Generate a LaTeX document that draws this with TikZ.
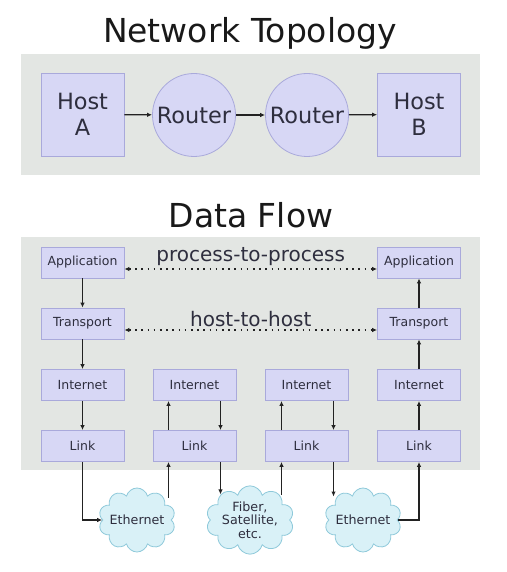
\documentclass[tikz,border=0pt]{standalone}
\usepackage{fontspec}
\setmainfont{DejaVu Sans}
\usetikzlibrary{positioning, arrows.meta, shapes.symbols}

\definecolor{panelgray}{HTML}{E3E6E3}
\definecolor{boxfill}{HTML}{D7D7F5}
\definecolor{boxline}{HTML}{A9A9DB}
\definecolor{boxtext}{HTML}{2E2E3E}
\definecolor{cloudfill}{HTML}{D9F1F7}
\definecolor{cloudline}{HTML}{8EC9DA}
\definecolor{wire}{HTML}{222222}

\begin{document}
\begin{tikzpicture}[
    x=1pt, y=-1pt,
    % Box styles
    box/.style={draw=boxline, line width=0.8pt, fill=boxfill, text=boxtext},
    host/.style={box, minimum width=83pt, minimum height=83pt, align=center,
        font=\fontsize{22.4}{26}\selectfont},
    router/.style={box, circle, minimum size=83pt, inner sep=0pt,
        font=\fontsize{22.4}{26}\selectfont},
    layer/.style={box, minimum width=83pt, minimum height=31pt, inner sep=0pt,
        font=\fontsize{12.5}{14}\selectfont},
    net/.style={cloud, cloud puffs=10, cloud ignores aspect, draw=cloudline,
        line width=0.8pt, fill=cloudfill, text=boxtext, minimum width=75pt,
        minimum height=64pt, inner sep=0pt, align=center,
        font=\fontsize{12.7}{13.5}\selectfont},
    title/.style={anchor=base, font=\fontsize{33}{38}\selectfont, text=black!90},
    peertext/.style={above=-1pt, font=\fontsize{20}{22}\selectfont, text=boxtext},
    % Arrow styles
    wirearrow/.style={-{Latex[length=5pt,width=4.5pt]}, line width=1.2pt, draw=wire},
    peer/.style={{Latex[length=5pt,width=4.5pt]}-{Latex[length=5pt,width=4.5pt]},
        line width=1.2pt, draw=wire, dash pattern=on 1.6pt off 4.6pt}
]
    \useasboundingbox (0,0) rectangle (506,572);

    % --- TOPOLOGY ---
    \node[title] (toptitle) at (250,43) {Network Topology};
    \fill[panelgray] (21,54) rectangle (480,175);

    \node[host]   (hostA)   at (82.5,114.5) {Host\\A};
    \node[router] (router1) at (194,115) {Router};
    \node[router] (router2) at (307,115) {Router};
    \node[host]   (hostB)   at (419,114.5) {Host\\B};

    \draw[wirearrow] (hostA) -- (router1);
    \draw[wirearrow] (router1) -- (router2);
    \draw[wirearrow] (router2) -- (hostB);

    % --- DATA FLOW ---
    \node[title] (flowtitle) at (251,227) {Data Flow};
    \fill[panelgray] (21,237) rectangle (480,470);

    % Hosts: four layers each
    \foreach \c/\x in {1/82.5, 4/419} {
        \node[layer] (app\c)   at (\x,262.5) {Application};
        \node[layer] (trans\c) at (\x,323.5) {Transport};
    }
    \foreach \c/\x in {1/82.5, 2/194.5, 3/306.5, 4/419} {
        \node[layer] (int\c)  at (\x,385) {Internet};
        \node[layer] (link\c) at (\x,446) {Link};
    }

    % Physical networks
    \node[net] (eth1)  at (137,520) {Ethernet};
    \node[net] (fiber) at (250,520) {Fiber,\\Satellite,\\etc.};
    \node[net] (eth2)  at (363,520) {Ethernet};

    % Peer links
    \draw[peer] ([yshift=-6.5pt]app1.east) -- node[peertext] {process-to-process} ([yshift=-6.5pt]app4.west);
    \draw[peer] ([yshift=-6.5pt]trans1.east) -- node[peertext] {host-to-host} ([yshift=-6.5pt]trans4.west);

    % Down the sending host
    \draw[wirearrow] (app1) -- (trans1);
    \draw[wirearrow] (trans1) -- (int1);
    \draw[wirearrow] (int1) -- (link1);

    % Through the routers
    \draw[wirearrow] ([xshift=-26pt]link2.north) -- ([xshift=-26pt]int2.south);
    \draw[wirearrow] ([xshift=26pt]int2.south) -- ([xshift=26pt]link2.north);
    \draw[wirearrow] ([xshift=-25pt]link3.north) -- ([xshift=-25pt]int3.south);
    \draw[wirearrow] ([xshift=27pt]int3.south) -- ([xshift=27pt]link3.north);

    % Up the receiving host
    \draw[wirearrow] (link4) -- (int4);
    \draw[wirearrow] (int4) -- (trans4);
    \draw[wirearrow] (trans4) -- (app4);

    % Links and networks
    \draw[wirearrow] (link1) |- (eth1);
    \draw[wirearrow] ([xshift=-26pt]link2.south |- eth1.40) -- ([xshift=-26pt]link2.south);
    \draw[wirearrow] ([xshift=26pt]link2.south) -- ([xshift=26pt]link2.south |- fiber.139);
    \draw[wirearrow] ([xshift=-25pt]link3.south |- fiber.40) -- ([xshift=-25pt]link3.south);
    \draw[wirearrow] ([xshift=27pt]link3.south) -- ([xshift=27pt]link3.south |- eth2.138);
    \draw[wirearrow] (eth2) -| (link4);

\end{tikzpicture}
\end{document}
